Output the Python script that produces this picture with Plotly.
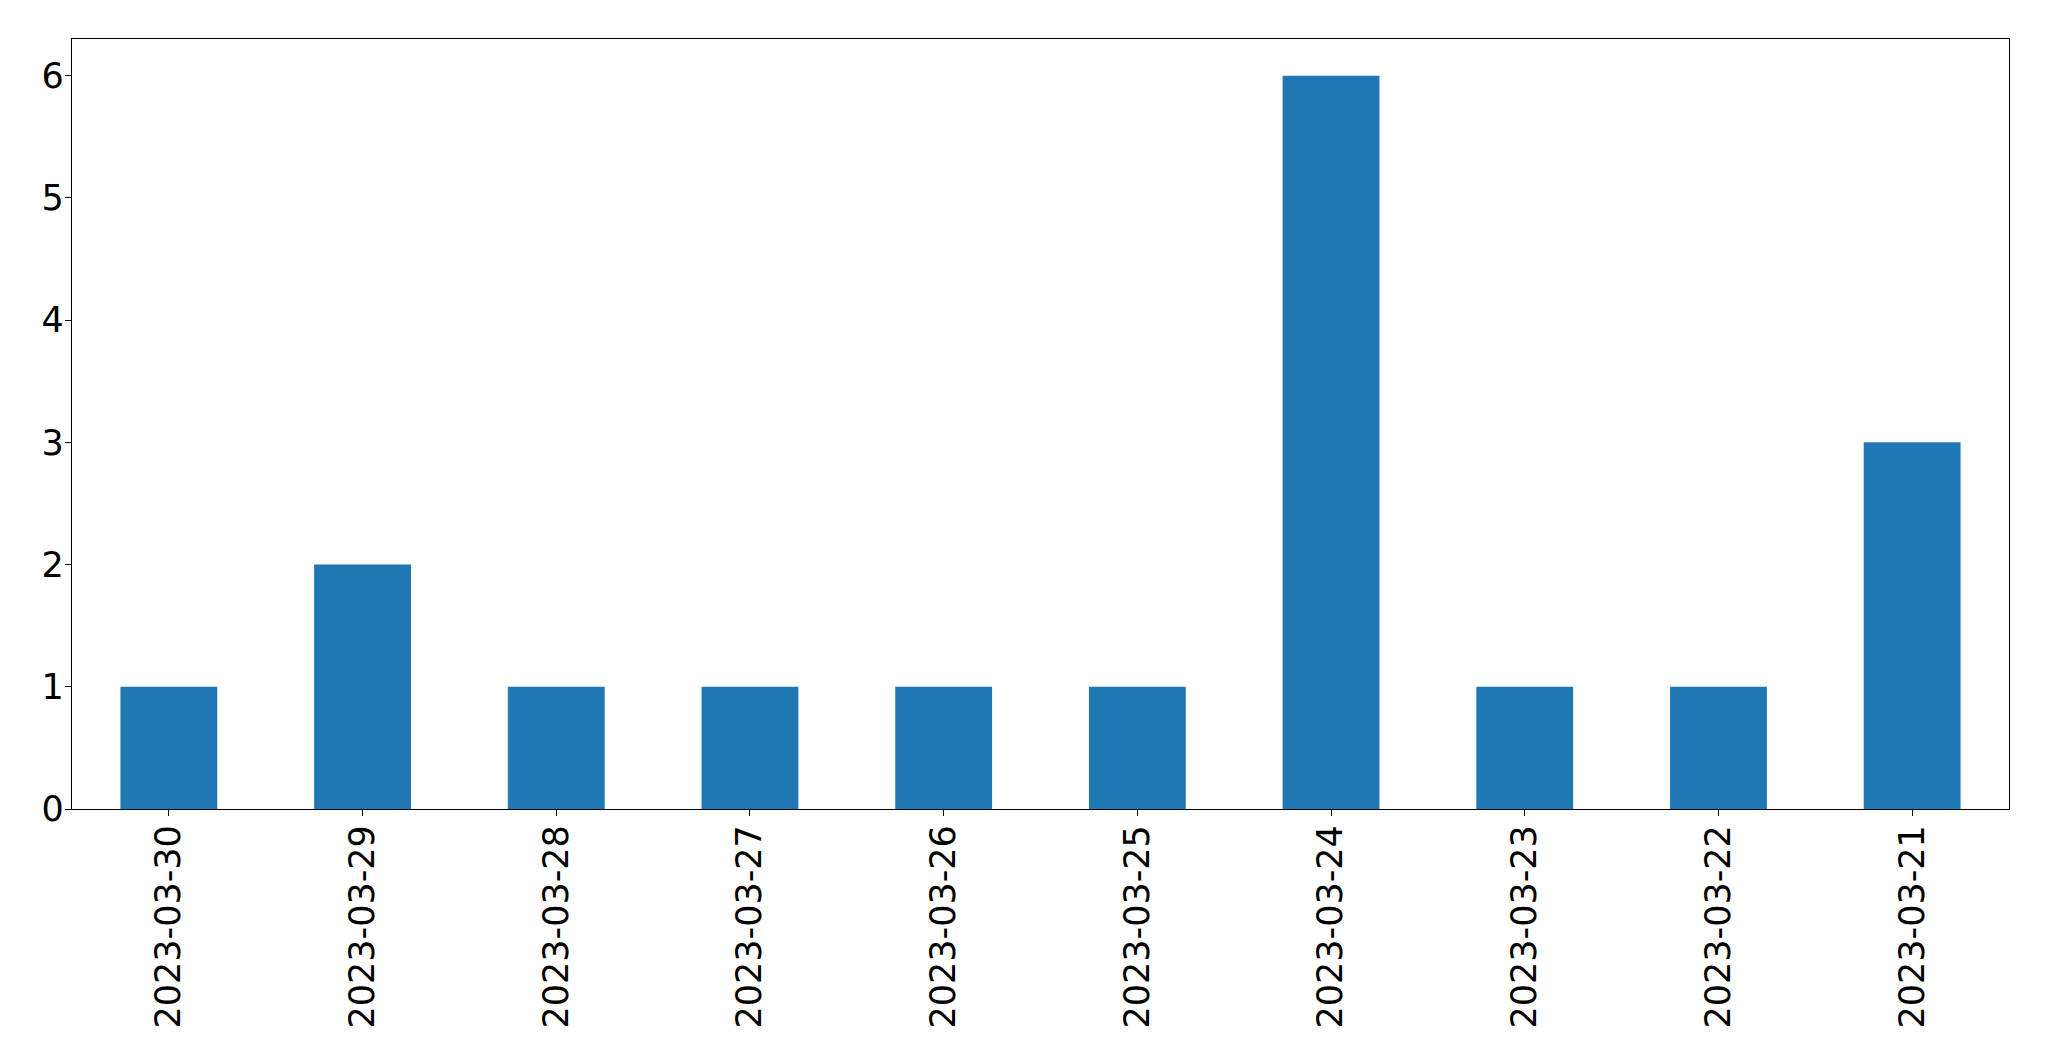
import plotly.graph_objects as go

dates = ["2023-03-30", "2023-03-29", "2023-03-28", "2023-03-27", "2023-03-26",
         "2023-03-25", "2023-03-24", "2023-03-23", "2023-03-22", "2023-03-21"]
counts = [1, 2, 1, 1, 1, 1, 6, 1, 1, 3]
y_ticks = [0, 1, 2, 3, 4, 5, 6]

fig = go.Figure(go.Bar(x=dates, y=counts, marker_color="#1f77b4",
                       marker_line_width=0, width=0.5))

font = dict(family="DejaVu Sans", size=35, color="black")
fig.update_layout(
    width=2049, height=1061,
    margin=dict(l=64, r=48, t=31, b=260, autoexpand=False),
    paper_bgcolor="white", plot_bgcolor="white",
    showlegend=False, bargap=0.5,
)
fig.update_xaxes(type="category", range=[-0.5, 9.5], tickangle=-90, tickfont=font,
                 showline=True, linecolor="black", linewidth=1.3, mirror=True,
                 ticks="outside", ticklen=6, tickwidth=1.3, tickcolor="black",
                 showgrid=False, zeroline=False, ticklabelstandoff=-5, automargin=False)
fig.update_yaxes(range=[0, 6.3], tickvals=y_ticks, tickfont=font,
                 showline=True, linecolor="black", linewidth=1.3, mirror=True,
                 ticks="outside", ticklen=6, tickwidth=1.3, tickcolor="black",
                 showgrid=False, zeroline=False, ticklabelstandoff=-6, automargin=False)

fig.write_html("out.html")
